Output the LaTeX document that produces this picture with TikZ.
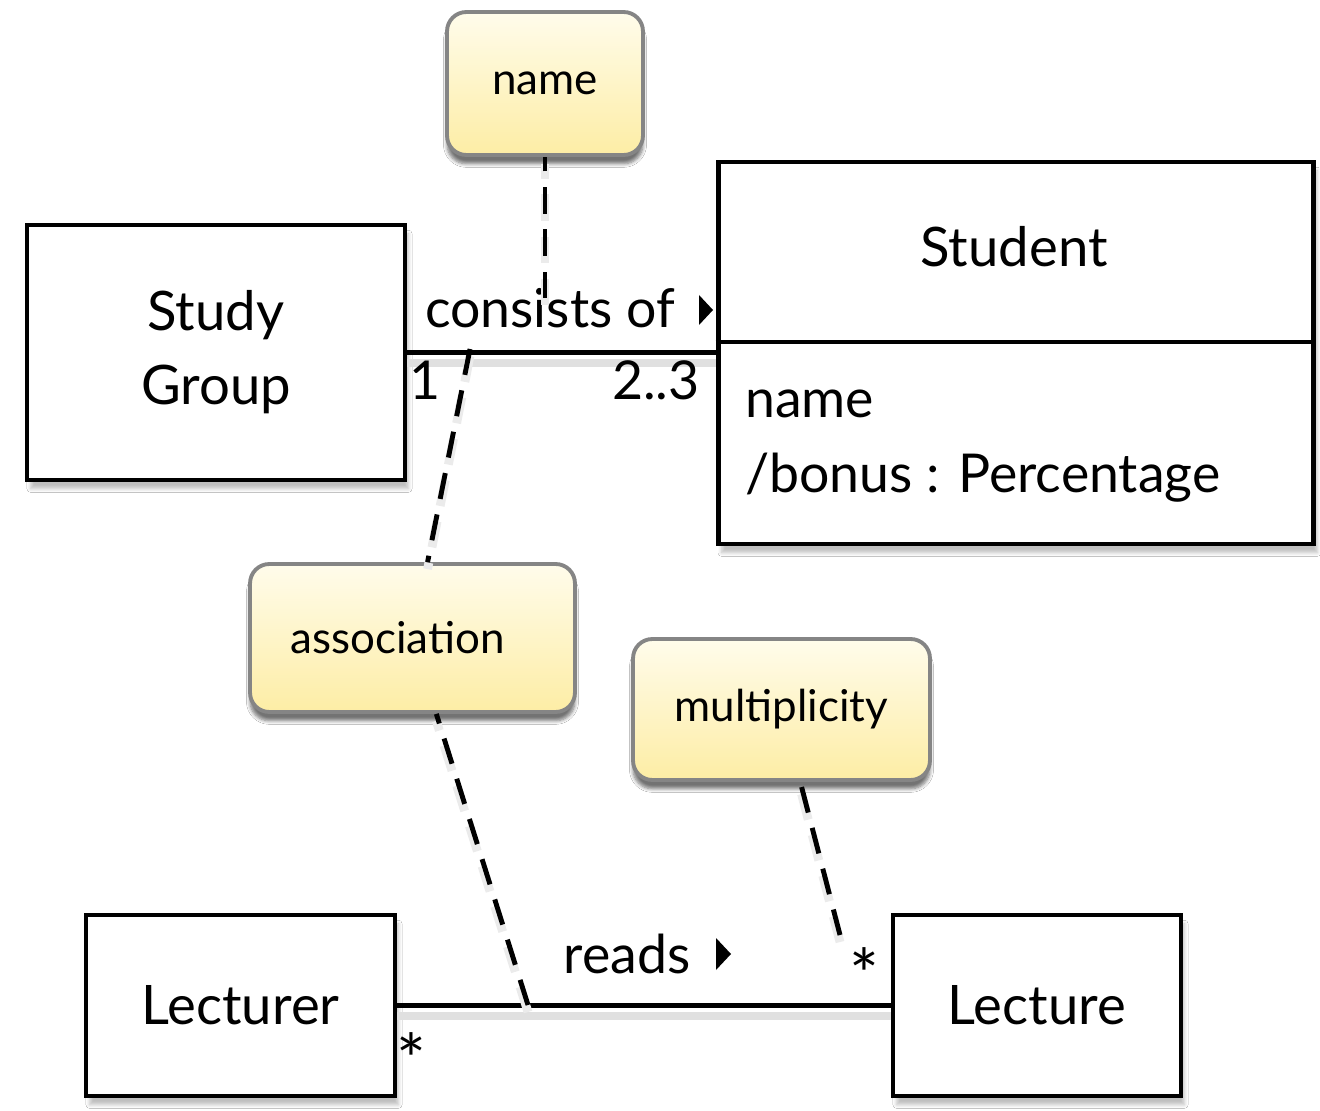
\documentclass[tikz,border=0pt]{standalone}
\usepackage{fontspec}
\setmainfont{Lato}
\usetikzlibrary{shadows.blur,calc}
\definecolor{notetop}{HTML}{FFFCEB}
\definecolor{notebot}{HTML}{FDEDA5}
\definecolor{noteborder}{HTML}{858585}
\begin{document}
\begin{tikzpicture}[x=0.02cm,y=-0.02cm,
  classbox/.style={draw=black, line width=2.8pt, fill=white, inner sep=0pt,
    blur shadow={shadow xshift=2pt, shadow yshift=-5pt, shadow opacity=25, shadow blur steps=6},
    font=\fontsize{31}{42}\selectfont, align=center},
  note/.style={draw=noteborder, line width=2.2pt, rounded corners=11pt, inner sep=0pt,
    top color=notetop, bottom color=notebot,
    blur shadow={shadow xshift=0pt, shadow yshift=-5pt, shadow opacity=55, shadow blur steps=6},
    font=\fontsize{25}{30}\selectfont},
  assocline/.style={line width=2.4pt,
    preaction={draw=black!12, line width=5pt, transform canvas={yshift=-6pt}}},
  notelink/.style={line width=2.8pt, dash pattern=on 15pt off 9pt,
    preaction={draw=black!8, line width=5pt, dash pattern=on 15pt off 9pt, transform canvas={yshift=-4pt}}},
  lbl/.style={inner sep=0pt, font=\fontsize{30.5}{36}\selectfont},
  star/.style={inner sep=0pt, font=\fontsize{40}{40}\selectfont},
  attr/.style={inner sep=0pt, anchor=base west, font=\fontsize{30.5}{36}\selectfont},
  dirtri/.style={fill=black}
]
\useasboundingbox[fill=white] (0,0) rectangle (1320,1111);

% classes
\node[classbox, minimum width=7.56cm, minimum height=5.1cm] (sg) at (216,352.5) {Study\\Group};
\node[classbox, minimum width=11.92cm, minimum height=7.64cm] (student) at (1016,353) {};
\draw[line width=2.8pt] (student.west |- 0,342) coordinate (divl) -- (student.east |- 0,342) coordinate (divr);
\node[inner sep=0pt, font=\fontsize{31}{42}\selectfont] (stname) at (1014,247) {Student};
\node[attr] (attr1) at (745,418) {name};
\node[attr] (attr2) at (745,493) {/bonus : Percentage};
\node[classbox, minimum width=6.18cm, minimum height=3.62cm] (lecturer) at (240.5,1005.5) {Lecturer};
\node[classbox, minimum width=5.76cm, minimum height=3.62cm] (lecture) at (1037,1005.5) {Lecture};

% notes
\node[note, minimum width=3.92cm, minimum height=2.86cm] (nname) at (545,83.5) {\raisebox{-2pt}{name}};
\node[note, minimum width=6.5cm, minimum height=2.96cm] (nassoc) at (412.5,638) {\hspace*{-0.6cm}association};
\node[note, minimum width=5.94cm, minimum height=2.82cm] (nmult) at (781.5,709.5) {multiplicity};

% associations
\draw[assocline] (sg.east) -- (sg.east -| student.west);
\draw[assocline] (lecturer.east) -- (lecture.west);

% association labels
\node[lbl, anchor=base] (consists) at (550,328) {consists of};
\fill[dirtri] (699,295) -- (713,310) -- (699,325) -- cycle;
\node[lbl, anchor=base] (reads) at (627,973) {reads};
\fill[dirtri] (716,938) -- (731,954) -- (716,970) -- cycle;

% multiplicities
\node[lbl, anchor=base] (m1) at (425,400) {1};
\node[lbl, anchor=base east] (m23) at (700,400) {2..3};
\node[star] (m3) at (864,974) {*};
\node[star] (m4) at (411,1059) {*};

% note links
\coordinate (nameend) at (545,298);
\coordinate (assocup) at (470,349);
\coordinate (assocdown) at (528,1005);
\coordinate (multend) at (840,935);
\draw[notelink] (nameend) -- (nname);
\draw[notelink] (assocup) -- (nassoc);
\draw[notelink] (assocdown) -- (nassoc);
\draw[notelink] (multend) -- (nmult);
\end{tikzpicture}
\end{document}
